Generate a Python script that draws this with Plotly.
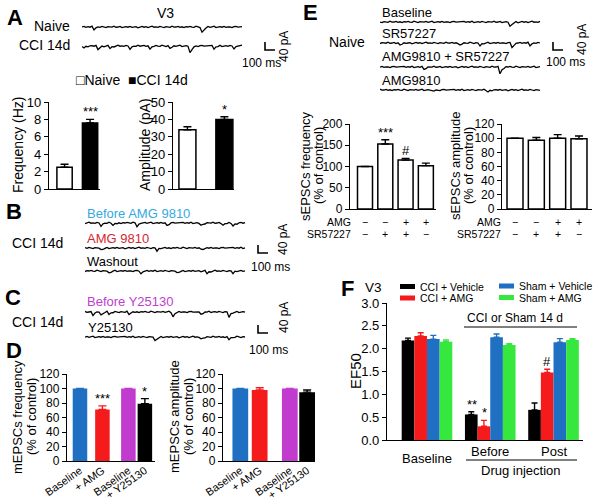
import plotly.graph_objects as go

W, H = 600, 500
FONT = "Liberation Sans, Arial, Helvetica, sans-serif"

# ------------------------------------------------------------------ data
# Panel A (V3, naive vs CCI 14d)
A_GROUPS = ["Naive", "CCI 14d"]
A_FREQ = [2.5, 7.6]
A_FREQ_ERR = [0.35, 0.4]
A_FREQ_SIG = ["", "***"]
A_AMP = [34.0, 40.0]
A_AMP_ERR = [1.8, 1.5]
A_AMP_SIG = ["", "*"]

# Panel D (mEPSCs, % of control)
D_LABELS = ["Baseline", "+ AMG", "Baseline", "+ Y25130"]
D_FREQ = [100, 71, 100, 79]
D_FREQ_ERR = [0, 5, 0, 7]
D_FREQ_SIG = ["", "***", "", "*"]
D_AMP = [100, 98, 100, 95]
D_AMP_ERR = [0, 3, 0, 3]

# Panel E (sEPSCs, % of control)
E_CONDITIONS = ["Baseline", "SR57227", "AMG9810 + SR57227", "AMG9810"]
E_AMG = ["−", "−", "+", "+"]
E_SR = ["−", "+", "+", "−"]
E_FREQ = [100, 153, 115, 102]
E_FREQ_ERR = [0, 10, 4, 6]
E_FREQ_SIG = ["", "***", "#", ""]
E_AMP = [100, 97, 100, 99]
E_AMP_ERR = [0, 4, 5, 4]

# Panel F (EF50)
F_PHASES = ["Baseline", "Before", "Post"]
F_SERIES = ["CCI + Vehicle", "CCI + AMG", "Sham + Vehicle", "Sham + AMG"]
F_CCI_VEH = [2.18, 0.56, 0.66]
F_CCI_VEH_ERR = [0.05, 0.06, 0.15]
F_CCI_VEH_SIG = ["", "**", ""]
F_CCI_AMG = [2.28, 0.30, 1.48]
F_CCI_AMG_ERR = [0.07, 0.13, 0.07]
F_CCI_AMG_SIG = ["", "*", "#"]
F_SHAM_VEH = [2.21, 2.25, 2.14]
F_SHAM_VEH_ERR = [0.08, 0.07, 0.08]
F_SHAM_AMG = [2.15, 2.08, 2.19]
F_SHAM_AMG_ERR = [0.04, 0.03, 0.03]

# Example current traces: recording noise (pA, one value per 20 ms) + events (ms, pA)
SAMPLE_MS = 20
RIPPLE = [0, 3, -2, 2, -1, 4, -3, 1, 2, -2, 3, 0, -3, 2, 1, -1, 4, -2, 0, 3,
          -3, 1, 2, -1, 3, -2, 0, 2, -4, 1, 3, -1, 2, -3, 0, 4, -1, 1, -2, 3,
          0, -3, 2, 1, -2, 4, -1, 0, 3, -2, 1, -3, 2, 0, 3, -1, -2, 4, 1, -3,
          2, 0, -1, 3, -2, 1, 4, -3, 0, 2, -1, 3, -2, 1, 0, -3, 2, 3, -1, 0, 2]
A_NAIVE_EV_T = [130, 1200]
A_NAIVE_EV_PA = [12, 28]
A_CCI_EV_T = [20, 160, 280, 480, 680, 880, 1080, 1310, 1510]
A_CCI_EV_PA = [10, 16, 12, 14, 13, 12, 36, 14, 12]
B_BEFORE_EV_T = [150, 280, 520, 820, 1150, 1380, 1480]
B_BEFORE_EV_PA = [14, 12, 16, 12, 14, 12, 15]
B_AMG_EV_T = [150, 720, 1150]
B_AMG_EV_PA = [12, 14, 10]
B_WASH_EV_T = [250, 550, 920, 1220, 1480]
B_WASH_EV_PA = [12, 14, 12, 13, 11]
C_BEFORE_EV_T = [70, 150, 250, 450, 880, 1150, 1450]
C_BEFORE_EV_PA = [14, 16, 12, 12, 24, 14, 26]
C_Y_EV_T = [700, 1150, 1450]
C_Y_EV_PA = [22, 12, 14]
E_BASE_EV_T = [1300]
E_BASE_EV_PA = [24]
E_SR_EV_T = [200, 800, 1000, 1330, 1500]
E_SR_EV_PA = [12, 12, 14, 22, 12]
E_BOTH_EV_T = [430, 1200]
E_BOTH_EV_PA = [12, 32]
E_AMG_EV_T = [530, 1070]
E_AMG_EV_PA = [8, 10]

SCALE_MS = 100
SCALE_PA = 40

# ------------------------------------------------------------------ style
BLUE = "#1f6fc2"
RED = "#f51a1c"
MAGENTA = "#c23bcf"
GREEN = "#36e83e"
CYAN_TXT = "#35a9df"
RED_TXT = "#d6262e"
MAG_TXT = "#c03dd0"
D_COLORS = [BLUE, RED, MAGENTA, "black"]
F_COLORS = ["black", RED, BLUE, GREEN]
D_LEFT_POS = [0, 1.02, 2.2, 2.95]
D_RIGHT_POS = [0, 0.86, 2.2, 2.97]
MS_PER_PX = 10.0
PA_PER_PX = 5.0
TRACE_SPAN_PX = 210


def px(x):
    return x / W


def py(y):
    return 1 - y / H


def axkey(kind, n):
    return f"{kind}axis" if n == 1 else f"{kind}axis{n}"


def ref(kind, n):
    return kind if n == 1 else f"{kind}{n}"


layout = {}
annotations = []
shapes = []
data = []

AX = dict(showline=True, linecolor="black", linewidth=1.3, showgrid=False,
          zeroline=False, fixedrange=True, automargin=False)


def bar_axes(n, x0, x1, y_top, y_zero, xrange, yrange, dtick, tsize=13,
             xextra=None, yextra=None):
    xa = dict(AX, domain=[px(x0), px(x1)], range=xrange, anchor=ref("y", n),
              ticks="", showticklabels=False)
    if xextra:
        xa.update(xextra)
    ya = dict(AX, domain=[py(y_zero), py(y_top)], range=yrange, anchor=ref("x", n),
              ticks="outside", ticklen=4, tickwidth=1.3, tickcolor="black",
              dtick=dtick, tickfont=dict(size=tsize, color="black"))
    if yextra:
        ya.update(yextra)
    layout[axkey("x", n)] = xa
    layout[axkey("y", n)] = ya


def err(arr, color, width=4):
    return dict(type="data", array=arr, arrayminus=[0] * len(arr), symmetric=False,
                color=color, thickness=1.4, width=width, visible=True)


def txt(text, x, y, size=13, color="black", xanchor="center", angle=0, bold=False):
    if bold:
        text = f"<b>{text}</b>"
    annotations.append(dict(text=text, x=px(x), y=py(y), xref="paper", yref="paper",
                            showarrow=False, xanchor=xanchor, yanchor="middle",
                            textangle=angle, font=dict(size=size, color=color)))


def sig(text, n, x, y, xshift=0, size=13):
    if not text:
        return
    annotations.append(dict(text=text, x=x, y=y, xref=ref("x", n), yref=ref("y", n),
                            showarrow=False, xanchor="center", yanchor="bottom",
                            xshift=xshift, yshift=-2, font=dict(size=size)))


# ------------------------------------------------------------------ A bars
bar_axes(1, 49, 100, 102, 189, [-0.61, 1.39], [0, 10], 2)
data.append(go.Bar(x=A_GROUPS, y=A_FREQ, width=0.6,
                   marker=dict(color=["white", "black"], line=dict(color="black", width=1.5)),
                   error_y=err(A_FREQ_ERR, "black"), xaxis="x", yaxis="y"))
for i, g in enumerate(A_GROUPS):
    sig(A_FREQ_SIG[i], 1, g, A_FREQ[i] + A_FREQ_ERR[i])

bar_axes(2, 173, 234, 102, 189, [-0.39, 1.26], [0, 50], 10)
data.append(go.Bar(x=A_GROUPS, y=A_AMP, width=0.46,
                   marker=dict(color=["white", "black"], line=dict(color="black", width=1.5)),
                   error_y=err(A_AMP_ERR, "black"), xaxis="x2", yaxis="y2"))
for i, g in enumerate(A_GROUPS):
    sig(A_AMP_SIG[i], 2, g, A_AMP[i] + A_AMP_ERR[i])

# ------------------------------------------------------------------ D bars
tick_d = dict(showticklabels=True, tickangle=-35, ticklabelstandoff=-2,
              tickfont=dict(size=11, color="black"))
bar_axes(3, 67, 155, 374, 461, [-0.59, 3.41], [0, 120], 20, tsize=12,
         xextra=dict(tick_d, tickvals=D_LEFT_POS, ticktext=D_LABELS))
bar_axes(4, 223, 315, 374, 461, [-0.77, 3.32], [0, 120], 20, tsize=12,
         xextra=dict(tick_d, tickvals=D_RIGHT_POS, ticktext=D_LABELS))
for i in range(len(D_LABELS)):
    data.append(go.Bar(x=[D_LEFT_POS[i]], y=[D_FREQ[i]], width=0.66, offsetgroup="d3",
                       marker=dict(color=D_COLORS[i], line=dict(width=0)),
                       error_y=err([D_FREQ_ERR[i]], D_COLORS[i]), xaxis="x3", yaxis="y3"))
    sig(D_FREQ_SIG[i], 3, D_LEFT_POS[i], D_FREQ[i] + D_FREQ_ERR[i])
    data.append(go.Bar(x=[D_RIGHT_POS[i]], y=[D_AMP[i]], width=0.7, offsetgroup="d4",
                       marker=dict(color=D_COLORS[i], line=dict(width=0)),
                       error_y=err([D_AMP_ERR[i]], D_COLORS[i]), xaxis="x4", yaxis="y4"))

# ------------------------------------------------------------------ E bars
bar_axes(5, 350, 436, 124, 209, [-0.74, 3.5], [0, 200], 50, tsize=12)
bar_axes(6, 502, 592, 124, 209, [-0.61, 3.61], [0, 120], 20, tsize=12)
data.append(go.Bar(x=E_CONDITIONS, y=E_FREQ, width=0.74,
                   marker=dict(color="white", line=dict(color="black", width=1.5)),
                   error_y=err(E_FREQ_ERR, "black"), xaxis="x5", yaxis="y5"))
data.append(go.Bar(x=E_CONDITIONS, y=E_AMP, width=0.75,
                   marker=dict(color="white", line=dict(color="black", width=1.5)),
                   error_y=err(E_AMP_ERR, "black"), xaxis="x6", yaxis="y6"))
for i, c in enumerate(E_CONDITIONS):
    sig(E_FREQ_SIG[i], 5, c, E_FREQ[i] + E_FREQ_ERR[i])
    for n in (5, 6):
        for row, y in ((E_AMG, 222), (E_SR, 234)):
            annotations.append(dict(text=row[i], x=c, xref=ref("x", n), y=py(y), yref="paper",
                                    showarrow=False, xanchor="center", yanchor="middle",
                                    font=dict(size=10.5)))

# ------------------------------------------------------------------ F bars
bar_axes(7, 387, 583, 303, 440, [-0.632, 2.466], [0, 3], 0.5,
         yextra=dict(tickformat=".1f"))
F_VALUES = [F_CCI_VEH, F_CCI_AMG, F_SHAM_VEH, F_SHAM_AMG]
F_ERRS = [F_CCI_VEH_ERR, F_CCI_AMG_ERR, F_SHAM_VEH_ERR, F_SHAM_AMG_ERR]
for s, name in enumerate(F_SERIES):
    data.append(go.Bar(x=F_PHASES, y=F_VALUES[s], name=name,
                       marker=dict(color=F_COLORS[s], line=dict(width=0)),
                       error_y=err(F_ERRS[s], F_COLORS[s], width=3), xaxis="x7", yaxis="y7"))
BAR_PX = 12.5
for j, ph in enumerate(F_PHASES):
    sig(F_CCI_VEH_SIG[j], 7, ph, F_CCI_VEH[j] + F_CCI_VEH_ERR[j], xshift=-1.5 * BAR_PX)
    sig(F_CCI_AMG_SIG[j], 7, ph, F_CCI_AMG[j] + F_CCI_AMG_ERR[j], xshift=-0.5 * BAR_PX)

# ------------------------------------------------------------------ current traces
def build_trace(ev_t, ev_pa, shift):
    n = len(RIPPLE)
    t = [i * SAMPLE_MS for i in range(n)]
    y = [float(RIPPLE[(i + shift) % n]) for i in range(n)]
    for et, ea in zip(ev_t, ev_pa):
        k = round(et / SAMPLE_MS)
        for j, f in enumerate((1.0, 0.45, 0.15)):
            if k + j < n:
                y[k + j] -= ea * f
    return t, y


TRACES = [
    # (x0 px, baseline px, events t, events pA, ripple shift, scale bar (t0 ms, base pA))
    (82, 27, A_NAIVE_EV_T, A_NAIVE_EV_PA, 0, None),
    (82, 46, A_CCI_EV_T, A_CCI_EV_PA, 17, (1830, -20)),
    (85, 223, B_BEFORE_EV_T, B_BEFORE_EV_PA, 33, None),
    (85, 248, B_AMG_EV_T, B_AMG_EV_PA, 8, (1730, -25)),
    (85, 271, B_WASH_EV_T, B_WASH_EV_PA, 51, None),
    (85, 312, C_BEFORE_EV_T, C_BEFORE_EV_PA, 24, None),
    (85, 337, C_Y_EV_T, C_Y_EV_PA, 62, (1730, 20)),
    (380, 22, E_BASE_EV_T, E_BASE_EV_PA, 40, None),
    (380, 43, E_SR_EV_T, E_SR_EV_PA, 12, (1730, -35)),
    (380, 67, E_BOTH_EV_T, E_BOTH_EV_PA, 70, None),
    (380, 90, E_AMG_EV_T, E_AMG_EV_PA, 45, None),
]
for k, (x0, yc, et, ea, shift, sb) in enumerate(TRACES):
    n = 8 + k
    layout[axkey("x", n)] = dict(domain=[px(x0), px(x0 + TRACE_SPAN_PX)],
                                 range=[0, TRACE_SPAN_PX * MS_PER_PX], visible=False,
                                 anchor=ref("y", n), fixedrange=True, automargin=False)
    layout[axkey("y", n)] = dict(domain=[py(yc + 15), py(yc - 15)],
                                 range=[-15 * PA_PER_PX, 15 * PA_PER_PX], visible=False,
                                 anchor=ref("x", n), fixedrange=True, automargin=False)
    t, y = build_trace(et, ea, shift)
    data.append(go.Scatter(x=t, y=y, mode="lines", line=dict(color="black", width=1.3),
                           xaxis=ref("x", n), yaxis=ref("y", n), hoverinfo="skip"))
    if sb:
        t0, base = sb
        data.append(go.Scatter(x=[t0, t0, t0 + SCALE_MS], y=[base + SCALE_PA, base, base],
                               mode="lines", line=dict(color="black", width=1.6),
                               xaxis=ref("x", n), yaxis=ref("y", n), hoverinfo="skip"))

# ------------------------------------------------------------------ texts
# Panel A
txt("A", 15, 17, 22, bold=True)
txt("V3", 165, 13, 14)
txt("Naive", 72, 26, 14, xanchor="right")
txt("CCI 14d", 72, 45, 14, xanchor="right")
txt("40 pA", 284, 47, 12, angle=-90)
txt("100 ms", 261, 63, 12)
txt("□Naive  ■CCI 14d", 74, 80, 14, xanchor="left")
txt("Frequency (Hz)", 18, 145, 14, angle=-90)
txt("Amplitude (pA)", 145, 145, 14, angle=-90)
# Panel B
txt("B", 14, 212, 22, bold=True)
txt("CCI 14d", 10, 243, 14, xanchor="left")
txt("Before AMG 9810", 85, 214, 13, color=CYAN_TXT, xanchor="left")
txt("AMG 9810", 85, 238, 13, color=RED_TXT, xanchor="left")
txt("Washout", 85, 261, 13, xanchor="left")
txt("40 pA", 283, 240, 12, angle=-90)
txt("100 ms", 270, 267, 12)
# Panel C
txt("C", 13, 297, 22, bold=True)
txt("CCI 14d", 10, 322, 14, xanchor="left")
txt("Before Y25130", 85, 301, 13, color=MAG_TXT, xanchor="left")
txt("Y25130", 86, 327, 13, xanchor="left")
txt("40 pA", 284, 318, 12, angle=-90)
txt("100 ms", 268, 350, 12)
# Panel D
txt("D", 14, 350, 22, bold=True)
txt("mEPSCs frequency", 17, 417, 13, angle=-90)
txt("(% of control)", 31, 417, 13, angle=-90)
txt("mEPSCs amplitude", 174, 417, 13, angle=-90)
txt("(% of control)", 188, 417, 13, angle=-90)
# Panel E
txt("E", 310, 12, 22, bold=True)
txt("Naive", 347, 42, 14)
txt("Baseline", 380, 12, 13, xanchor="left")
txt("SR57227", 380, 33, 13, xanchor="left")
txt("AMG9810 + SR57227", 380, 57, 13, xanchor="left")
txt("AMG9810", 380, 80, 13, xanchor="left")
txt("40 pA", 582, 40, 12, angle=-90)
txt("100 ms", 565, 62, 12)
txt("sEPSCs frequency", 305, 166, 13, angle=-90)
txt("(% of control)", 318, 166, 13, angle=-90)
txt("sEPSCs amplitude", 455, 166, 13, angle=-90)
txt("(% of control)", 468, 166, 13, angle=-90)
txt("AMG", 353, 222, 10.5, xanchor="right")
txt("SR57227", 353, 234, 10.5, xanchor="right")
txt("AMG", 503, 222, 10.5, xanchor="right")
txt("SR57227", 503, 234, 10.5, xanchor="right")
# Panel F
txt("F", 347, 288, 22, bold=True)
txt("V3", 373, 287, 13.5)
legend_pos = [(400, 286.5), (400, 298), (499, 286), (499, 297.5)]
for s, name in enumerate(F_SERIES):
    lx, ly = legend_pos[s]
    shapes.append(dict(type="rect", xref="paper", yref="paper", x0=px(lx), x1=px(lx + 15),
                       y0=py(ly + 2.5), y1=py(ly - 2.5), fillcolor=F_COLORS[s],
                       line=dict(width=0)))
    txt(name, lx + 18, ly, 10.5, xanchor="left")
txt("CCI or Sham 14 d", 515, 318, 12)
shapes.append(dict(type="line", xref="paper", yref="paper", x0=px(464), x1=px(577),
                   y0=py(327), y1=py(327), line=dict(color="black", width=1)))
txt("EF50", 355, 371, 15, angle=-90)
for ph, y in zip(F_PHASES, (458, 451, 451)):
    annotations.append(dict(text=ph, x=ph, xref="x7", y=py(y), yref="paper",
                            showarrow=False, xanchor="center", yanchor="middle",
                            font=dict(size=13)))
shapes.append(dict(type="line", xref="paper", yref="paper", x0=px(466), x1=px(577),
                   y0=py(460), y1=py(460), line=dict(color="black", width=1)))
txt("Drug injection", 521, 470, 13)

layout.update(dict(
    template="none",
    width=W, height=H, margin=dict(l=0, r=0, t=0, b=0, pad=0, autoexpand=False),
    paper_bgcolor="white", plot_bgcolor="rgba(0,0,0,0)",
    font=dict(family=FONT, size=13, color="black"),
    showlegend=False, barmode="group", bargap=0.2, bargroupgap=0,
    annotations=annotations, shapes=shapes,
))

fig = go.Figure(data=data, layout=layout)
fig.write_html("out.html", config=dict(displayModeBar=False),
               post_script="document.body.style.margin='0';document.body.style.padding='0';")
